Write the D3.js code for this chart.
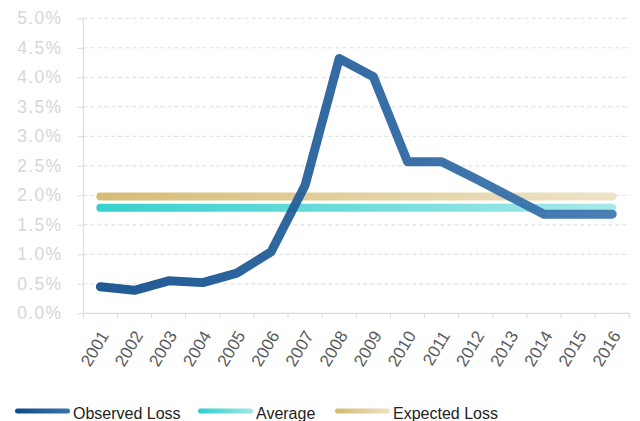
<!DOCTYPE html>
<html>
<head>
<meta charset="utf-8">
<script src="https://cdnjs.cloudflare.com/ajax/libs/d3/7.8.5/d3.min.js"></script>
<style>
  html, body { margin: 0; padding: 0; background: #fff; }
  svg { display: block; font-family: "Liberation Sans", Arial, sans-serif; }
</style>
</head>
<body>
<svg id="chart" width="640" height="421"></svg>
<script>
// Loss rates by year (percent)
const years = ["2001","2002","2003","2004","2005","2006","2007","2008",
               "2009","2010","2011","2012","2013","2014","2015","2016"];
const observedLoss = [0.45, 0.39, 0.55, 0.52, 0.68, 1.04, 2.17, 4.32,
                      4.01, 2.57, 2.57, 2.28, 1.98, 1.68, 1.68, 1.68];
const averageLoss  = [1.79, 1.79, 1.79, 1.79, 1.79, 1.79, 1.79, 1.79,
                      1.79, 1.79, 1.79, 1.79, 1.79, 1.79, 1.79, 1.79];
const expectedLoss = [1.98, 1.98, 1.98, 1.98, 1.98, 1.98, 1.98, 1.98,
                      1.98, 1.98, 1.98, 1.98, 1.98, 1.98, 1.98, 1.98];
const yTicks = [0, 0.5, 1, 1.5, 2, 2.5, 3, 3.5, 4, 4.5, 5];

const series = [
  { key: "expected", name: "Expected Loss", values: expectedLoss, c0: "#d4b96f", c1: "#ede2c5" },
  { key: "average",  name: "Average",       values: averageLoss,  c0: "#2cceca", c1: "#a3e8e8" },
  { key: "observed", name: "Observed Loss", values: observedLoss, c0: "#0d4b8a", c1: "#3b74ae" }
];

(function draw() {
  const svg = d3.select("#chart");
  const plotLeft = 83.3, plotRight = 629.3, plotTop = 18.3, plotBottom = 313.3;

  const x = d3.scaleBand().domain(years).range([plotLeft, plotRight]);
  const y = d3.scaleLinear().domain([0, 5]).range([plotBottom, plotTop]);
  const cx = d => x(d) + x.bandwidth() / 2;

  // gridlines
  svg.append("g")
    .selectAll("line")
    .data(yTicks.filter(t => t > 0))
    .join("line")
    .attr("x1", plotLeft).attr("x2", plotRight + 1)
    .attr("y1", d => y(d)).attr("y2", d => y(d))
    .attr("stroke", "#dcdcdc")
    .attr("stroke-width", 1)
    .attr("stroke-dasharray", "4,3");

  // y axis
  const yAxis = svg.append("g")
    .attr("transform", `translate(${plotLeft},0)`)
    .call(d3.axisLeft(y).tickValues(yTicks).tickSize(6).tickPadding(15)
      .tickFormat(d => d3.format(".1f")(d) + "%"));
  yAxis.select(".domain").attr("stroke", "#d9d9d9").attr("d", `M0,${plotTop}V${plotBottom}`);
  yAxis.selectAll(".tick line").attr("stroke", "#d9d9d9");
  yAxis.selectAll(".tick text")
    .attr("fill", "#d6d6d6")
    .attr("font-size", 17.5)
    .attr("letter-spacing", "1.3px")
    .attr("font-family", "'Liberation Sans', Arial, sans-serif");

  // x axis with ticks between categories
  const xAxis = svg.append("g").attr("transform", `translate(0,${plotBottom})`);
  xAxis.append("line")
    .attr("x1", plotLeft).attr("x2", plotRight)
    .attr("stroke", "#d9d9d9").attr("stroke-width", 1.2);
  xAxis.selectAll("line.tk")
    .data(years.concat(["end"]))
    .join("line")
    .attr("class", "tk")
    .attr("x1", (d, i) => i < years.length ? x(d) : plotRight)
    .attr("x2", (d, i) => i < years.length ? x(d) : plotRight)
    .attr("y1", 0).attr("y2", 5)
    .attr("stroke", "#d9d9d9");
  xAxis.selectAll("text")
    .data(years)
    .join("text")
    .attr("transform", d => `translate(${cx(d) + 4},${19}) rotate(-59)`)
    .attr("text-anchor", "end")
    .attr("dy", "0.35em")
    .attr("fill", "#5a5a5a")
    .attr("font-size", 17)
    .text(d => d);

  // gradients
  const defs = svg.append("defs");
  series.forEach(s => {
    const g = defs.append("linearGradient")
      .attr("id", "grad-" + s.key)
      .attr("gradientUnits", "userSpaceOnUse")
      .attr("x1", cx(years[0])).attr("x2", cx(years[years.length - 1]))
      .attr("y1", 0).attr("y2", 0);
    g.append("stop").attr("offset", "0%").attr("stop-color", s.c0);
    g.append("stop").attr("offset", "100%").attr("stop-color", s.c1);

    const lg = defs.append("linearGradient")
      .attr("id", "leg-" + s.key)
      .attr("x1", "0%").attr("x2", "100%");
    lg.append("stop").attr("offset", "0%").attr("stop-color", s.c0);
    lg.append("stop").attr("offset", "100%").attr("stop-color", s.c1);
  });

  // lines
  const line = d3.line()
    .x((d, i) => cx(years[i]))
    .y(d => y(d));

  svg.append("g")
    .selectAll("path")
    .data(series)
    .join("path")
    .attr("d", s => line(s.values))
    .attr("fill", "none")
    .attr("stroke", s => `url(#grad-${s.key})`)
    .attr("stroke-width", s => s.key === "observed" ? 9 : 8)
    .attr("stroke-linecap", "round")
    .attr("stroke-linejoin", "round")
    .attr("opacity", s => s.key === "observed" ? 0.92 : 0.95);

  // legend
  const legendItems = [
    { key: "observed", name: "Observed Loss", x: 15 },
    { key: "average",  name: "Average",       x: 198 },
    { key: "expected", name: "Expected Loss", x: 335 }
  ];
  const legend = svg.append("g");
  legendItems.forEach(it => {
    legend.append("rect")
      .attr("x", it.x).attr("y", 408.5)
      .attr("width", 55).attr("height", 5).attr("rx", 2.5)
      .attr("fill", `url(#leg-${it.key})`);
    legend.append("text")
      .attr("x", it.x + 58).attr("y", 418.5)
      .attr("font-size", 16)
      .attr("fill", "#222")
      .text(it.name);
  });
})();
</script>
</body>
</html>
